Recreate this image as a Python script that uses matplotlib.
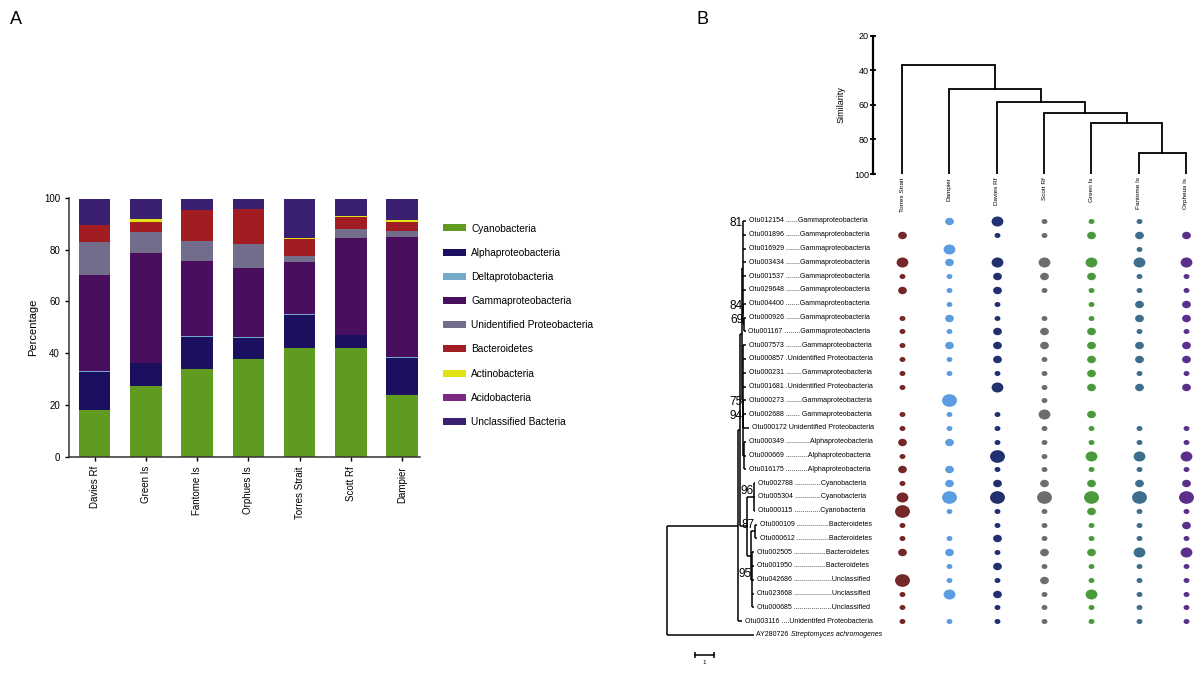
import numpy as np
import matplotlib
matplotlib.use("Agg")
import matplotlib.pyplot as plt
from matplotlib.path import Path
from matplotlib.markers import MarkerStyle
from matplotlib.transforms import Affine2D

plt.rcParams['font.family'] = ['Liberation Sans', 'DejaVu Sans']

# ---------------- panel A : phylum composition ----------------
sites = ['Davies Rf', 'Green Is', 'Fantome Is', 'Orphues Is', 'Torres Strait', 'Scott Rf', 'Dampier']
phyla = ['Cyanobacteria', 'Alphaproteobacteria', 'Deltaprotobacteria', 'Gammaproteobacteria',
         'Unidentified Proteobacteria', 'Bacteroidetes', 'Actinobacteria', 'Acidobacteria',
         'Unclassified Bacteria']
cyano   = [18.0, 27.2, 34.1, 37.9, 42.0, 42.0, 23.9]
alpha   = [14.6, 8.9, 12.2, 8.1, 12.6, 4.9, 14.1]
delta   = [0.4, 0.3, 0.2, 0.3, 0.4, 0.3, 0.4]
gamma   = [37.2, 42.4, 29.3, 26.7, 20.4, 37.1, 46.4]
unid    = [12.8, 8.0, 7.7, 9.1, 2.2, 3.6, 2.3]
bact    = [6.6, 3.7, 11.6, 13.5, 6.5, 4.6, 3.6]
actino  = [0.0, 1.5, 0.3, 0.0, 0.3, 0.4, 0.7]
acido   = [0.0, 0.0, 0.0, 0.0, 0.0, 0.0, 0.0]
unclass = [9.8, 7.7, 4.3, 4.1, 15.3, 6.8, 8.3]
phylum_colors = ['#5f9b1f', '#1b1060', '#74a9c9', '#4a0e5f', '#716d8b',
                 '#a11d21', '#e1e317', '#7b2a82', '#3b1f70']

# ---------------- panel B : cluster + OTU bubbles ----------------
sample_order = ['Torres Strait', 'Dampier', 'Davies Rf', 'Scott Rf', 'Green Is', 'Fantome Is', 'Orpheus Is']
sample_colors = ['#742828', '#5b9de0', '#21306e', '#6d6d6d', '#4a9a3c', '#3e6e8c', '#5c2f8a']
# merges of the similarity dendrogram: (left, right, similarity); ints refer to earlier merges
merges = [('Fantome Is', 'Orpheus Is', 87.6), ('Green Is', 1, 70.7), ('Scott Rf', 2, 64.7),
          ('Davies Rf', 3, 58.2), ('Dampier', 4, 51.0), ('Torres Strait', 5, 37.0)]

otu_labels = [
    'Otu012154 ......Gammaproteobacteria', 'Otu001896 .......Gammaproteobacteria',
    'Otu016929 .......Gammaproteobacteria', 'Otu003434 .......Gammaproteobacteria',
    'Otu001537 .......Gammaproteobacteria', 'Otu029648 .......Gammaproteobacteria',
    'Otu004400 .......Gammaproteobacteria', 'Otu000926 .......Gammaproteobacteria',
    'Otu001167 ........Gammaproteobacteria', 'Otu007573 ........Gammaproteobacteria',
    'Otu000857 .Unidentified Proteobacteria', 'Otu000231 ........Gammaproteobacteria',
    'Otu001681 .Unidentified Proteobacteria', 'Otu000273 ........Gammaproteobacteria',
    'Otu002688 ....... Gammaproteobacteria', 'Otu000172 Unidentified Proteobacteria',
    'Otu000349 ............Alphaproteobacteria', 'Otu000669 ...........Alphaproteobacteria',
    'Otu016175 ...........Alphaproteobacteria', 'Otu002788 .............Cyanobacteria',
    'Otu005304 .............Cyanobacteria', 'Otu000115 .............Cyanobacteria',
    'Otu000109 ................Bacteroidetes', 'Otu000612 ................Bacteroidetes',
    'Otu002505 ................Bacteroidetes', 'Otu001950 ................Bacteroidetes',
    'Otu042686 ...................Unclassified', 'Otu023668 ...................Unclassified',
    'Otu000685 ...................Unclassified', 'Otu003116 ....Unidentifed Proteobacteria',
]
outgroup_id = 'AY280726 '
outgroup_sp = 'Streptomyces achromogenes'

# relative abundance class (0 = absent .. 4 = highest), columns in sample_order
abundance = np.array([
    [0, 2, 3, 1, 1, 1, 0], [2, 0, 1, 1, 2, 2, 2], [0, 3, 0, 0, 0, 1, 0], [3, 2, 3, 3, 3, 3, 3],
    [1, 1, 2, 2, 2, 1, 1], [2, 1, 2, 1, 1, 1, 1], [0, 1, 1, 0, 1, 2, 2], [1, 2, 1, 1, 1, 2, 2],
    [1, 1, 2, 2, 2, 1, 1], [1, 2, 2, 2, 2, 2, 2], [1, 1, 2, 1, 2, 2, 2], [1, 1, 1, 1, 2, 1, 1],
    [1, 0, 3, 1, 2, 2, 2], [0, 4, 0, 1, 0, 0, 0], [1, 1, 1, 3, 2, 0, 0], [1, 1, 1, 1, 1, 1, 1],
    [2, 2, 1, 1, 1, 1, 1], [1, 0, 4, 1, 3, 3, 3], [2, 2, 1, 1, 1, 1, 1], [1, 2, 2, 2, 2, 2, 2],
    [3, 4, 4, 4, 4, 4, 4], [4, 1, 1, 1, 2, 1, 1], [1, 0, 1, 1, 1, 1, 2], [1, 1, 2, 1, 1, 1, 1],
    [2, 2, 1, 2, 2, 3, 3], [0, 1, 2, 1, 1, 1, 1], [4, 1, 1, 2, 1, 1, 1], [1, 3, 2, 1, 3, 1, 1],
    [1, 0, 1, 1, 1, 1, 1], [1, 1, 1, 1, 1, 1, 1],
])
bubble_sizes = [0, 18, 40, 72, 115]


# phylogenetic tree: leaves are row numbers, nodes carry branch length and bootstrap
def L(i, bl):
    return ('leaf', bl, i)


def N(bl, kids, bs=None):
    return ('node', bl, kids, bs)


tree = N(0, [
    N(3.75, [
        L(29, 0.2),
        N(0.1, [
            N(0.1, [
                N(0.05, [L(0, 0.15), L(1, 0.15), L(2, 0.15), L(3, 0.15), L(4, 0.15), L(5, 0.15),
                         N(0.02, [L(6, 0.15), N(0.02, [L(7, 0.13), L(8, 0.1)], 69)], 84)], 81),
                N(0.05, [L(9, 0.15), L(10, 0.15), L(11, 0.15), L(12, 0.15),
                         N(0.0, [L(13, 0.15), N(0.02, [L(14, 0.13), L(15, 0.3)], 94)], 75),
                         N(0.05, [L(16, 0.1), L(17, 0.12), L(18, 0.1)])]),
            ]),
            N(0.35, [
                N(0.4, [L(19, 0.05), L(20, 0.05), L(21, 0.05)], 96),
                N(0.2, [N(0.25, [L(22, 0.1), L(23, 0.1)], 87),
                        N(0.1, [L(24, 0.1), L(25, 0.1), L(26, 0.1), L(27, 0.1), L(28, 0.1)], 95)]),
            ]),
        ]),
    ]),
    L(30, 4.6),
])
top_boot = {81, 84, 69, 75, 94}

fig = plt.figure(figsize=(12, 6.75), dpi=100)

# ---- panel A
ax = fig.add_axes([0.0575, 0.323, 0.2925, 0.384])
series = [cyano, alpha, delta, gamma, unid, bact, actino, acido, unclass]
x = np.arange(len(sites))
bottom = np.zeros(len(sites))
handles = []
for vals, col in zip(series, phylum_colors):
    b = ax.bar(x, vals, 0.615, bottom=bottom, color=col, linewidth=0)
    handles.append(b)
    bottom += np.array(vals)
ax.set_xlim(-0.5, 6.35)
ax.set_ylim(0, 100)
ax.set_yticks(range(0, 101, 20))
ax.set_xticks(x)
ax.set_xticklabels(sites, rotation=90, fontsize=7)
ax.tick_params(axis='y', labelsize=7, length=3, width=1)
ax.tick_params(axis='x', length=3, width=1)
ax.set_ylabel('Percentage', fontsize=8)
for s in ['top', 'right']:
    ax.spines[s].set_visible(False)
for s in ['left', 'bottom']:
    ax.spines[s].set_linewidth(1.1)
    ax.spines[s].set_color('#333333')

fig.legend(handles, phyla, loc='upper left', bbox_to_anchor=(443 / 1200, 1 - 223.5 / 675),
           frameon=False, fontsize=7.3, borderpad=0, borderaxespad=0,
           handlelength=2.27, handleheight=0.69, handletextpad=0.5, labelspacing=1.4)

fig.text(10 / 1200, 1 - 20 / 675, 'A', fontsize=13, va='center')
fig.text(697 / 1200, 1 - 20 / 675, 'B', fontsize=13, va='center')

# ---- panel B dendrogram
axd = fig.add_axes([0.7275, 0.7422, 0.2725, 0.2049])
pos = {name: float(i) for i, name in enumerate(sample_order)}
clusters = {}
for k, (a, b, h) in enumerate(merges):
    xa, ha_ = (pos[a], 100.0) if isinstance(a, str) else clusters[a]
    xb, hb_ = (pos[b], 100.0) if isinstance(b, str) else clusters[b]
    axd.plot([xa, xa, xb, xb], [ha_, h, h, hb_], color='black', lw=1.3, solid_joinstyle='miter')
    clusters[k + 1] = ((xa + xb) / 2, h)
axd.set_xlim(-0.613, 6.296)
axd.set_ylim(100, 20)
axd.set_yticks([20, 40, 60, 80, 100])
axd.tick_params(axis='y', labelsize=6.5, direction='inout', length=4, width=1.3, pad=1)
axd.set_xticks([])
axd.set_ylabel('Similarity', fontsize=6.5, labelpad=6)
for s in ['top', 'right', 'bottom']:
    axd.spines[s].set_visible(False)
axd.spines['left'].set_linewidth(1.6)
for name in sample_order:
    axd.annotate(name, (pos[name], 100), xytext=(0, -2.5), textcoords='offset points',
                 rotation=90, ha='center', va='top', fontsize=4.6, annotation_clip=False)

# ---- panel B tree
axt = fig.add_axes([0.55, 0.0074, 0.1833, 0.6963])
axb = fig.add_axes([0.7333, 0.0074, 0.2667, 0.6963])
ylim = (32.54, -1.52)

segs, boots, tips = [], [], {}


def layout(t, x0):
    xn = x0 + t[1]
    if t[0] == 'leaf':
        segs.append(([x0, xn], [t[2], t[2]]))
        tips[t[2]] = xn
        return t[2]
    ys = [layout(k, xn) for k in t[2]]
    yc = (min(ys) + max(ys)) / 2
    segs.append(([xn, xn], [min(ys), max(ys)]))
    segs.append(([x0, xn], [yc, yc]))
    if t[3] is not None:
        boots.append((xn, yc, min(ys), t[3]))
    return yc


layout(tree, 0.0)
for xs, ys in segs:
    axt.plot(xs, ys, color='black', lw=1.1, solid_capstyle='butt')
for xn, yc, ytop, bs in boots:
    if bs in top_boot:
        axt.text(xn - 0.03, ytop + 0.15, str(bs), ha='right', va='center', fontsize=8.5)
    else:
        axt.text(xn - 0.03, yc, str(bs), ha='right', va='bottom', fontsize=8.5)
for i, lab in enumerate(otu_labels):
    axt.text(tips[i] + 0.15, i, lab, fontsize=5, va='center', ha='left', clip_on=False)
t1 = axt.text(tips[30] + 0.1, 30, outgroup_id, fontsize=5, va='center', ha='left')
axt.annotate(outgroup_sp, xy=(1, 0.5), xycoords=t1, va='center', ha='left',
             fontsize=5, style='italic')
# scale bar (1 substitution unit)
axt.plot([1.47, 2.47], [31.45, 31.45], color='black', lw=1.1)
axt.plot([1.47, 2.47], [31.45, 31.45], ls='none', marker='|', ms=4, mew=1.1, color='black')
axt.text(1.97, 31.85, '1', fontsize=4.5, ha='center', va='top')
axt.set_xlim(-0.368, 11.21)
axt.set_ylim(*ylim)
axt.axis('off')

# ---- panel B bubbles
ellipse = MarkerStyle(Path.unit_circle().transformed(Affine2D().scale(1.0, 0.85)))
for r in range(abundance.shape[0]):
    for c in range(abundance.shape[1]):
        k = abundance[r, c]
        if k > 0:
            axb.scatter(c, r, s=bubble_sizes[k], color=sample_colors[c], marker=ellipse,
                        linewidths=0)
axb.set_xlim(-0.465, 6.296)
axb.set_ylim(*ylim)
axb.axis('off')

fig.savefig('out.png', dpi=100)
